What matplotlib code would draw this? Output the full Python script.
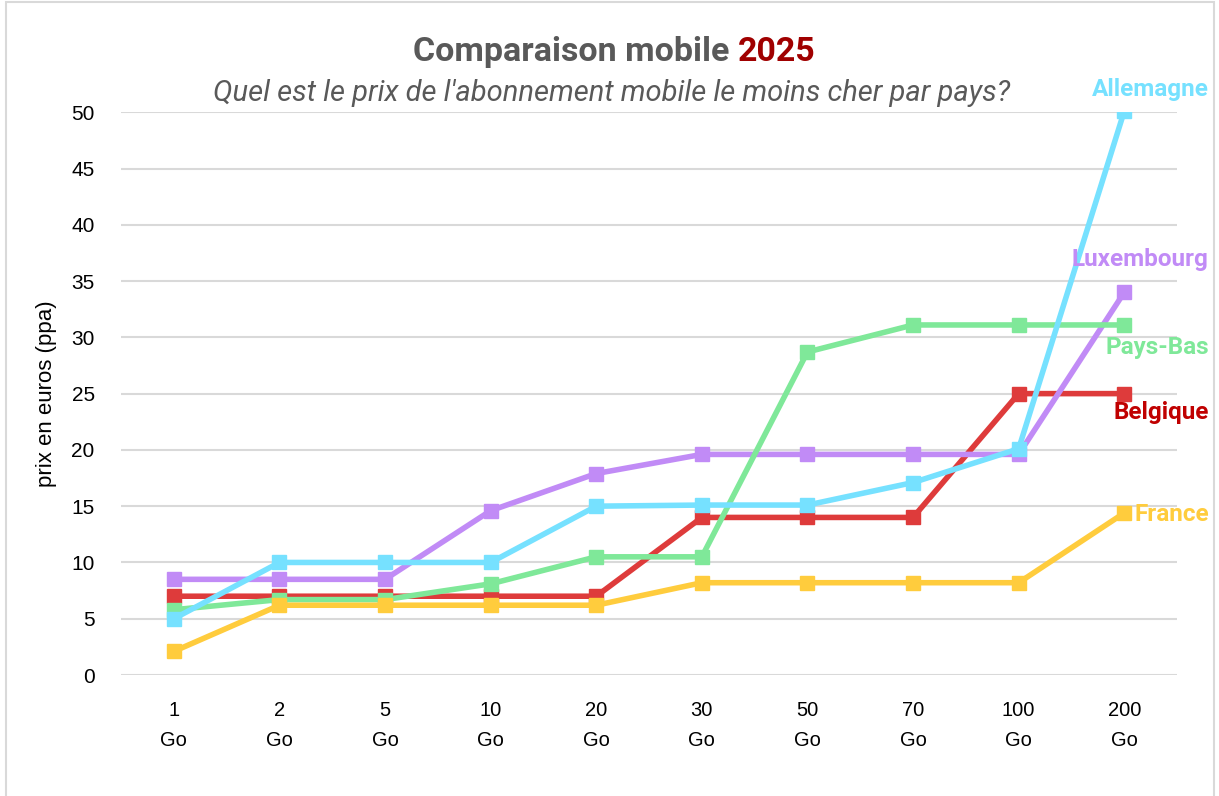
import matplotlib
matplotlib.use('Agg')
import matplotlib.pyplot as plt
from matplotlib.patches import Rectangle

# data
volumes = ['1', '2', '5', '10', '20', '30', '50', '70', '100', '200']
belgique = [7.0, 7.0, 7.0, 7.0, 7.0, 14.0, 14.0, 14.0, 25.0, 25.0]
luxembourg = [8.5, 8.5, 8.5, 14.6, 17.9, 19.6, 19.6, 19.6, 19.6, 34.0]
pays_bas = [5.8, 6.7, 6.7, 8.1, 10.5, 10.5, 28.7, 31.1, 31.1, 31.1]
allemagne = [5.0, 10.0, 10.0, 10.0, 15.0, 15.1, 15.1, 17.1, 20.1, 50.1]
france = [2.1, 6.2, 6.2, 6.2, 6.2, 8.2, 8.2, 8.2, 8.2, 14.4]

series = [
    ('Belgique', belgique, '#DE3B3B', '#C00000', 23.3),
    ('Luxembourg', luxembourg, '#C18BF6', '#C18BF6', 36.9),
    ('Pays-Bas', pays_bas, '#7FE899', '#7FE899', 29.1),
    ('Allemagne', allemagne, '#76E1FF', '#76E1FF', 52.0),
    ('France', france, '#FFCC3D', '#FFCC3D', 14.3),
]

fig = plt.figure(figsize=(12.19, 7.96), dpi=100)
ax = fig.add_axes([0.0993, 0.152, 0.8663, 0.707])

x = list(range(len(volumes)))
for name, vals, col, lab_col, ly in series:
    ax.plot(x, vals, color=col, lw=4, marker='s', ms=9.5, solid_joinstyle='round')
    ax.text(1.03, ly, name, transform=ax.get_yaxis_transform(), ha='right', va='center',
            color=lab_col, fontsize=17.5, fontweight='bold', family='Roboto')

ax.set_xlim(-0.5, len(volumes) - 0.5)
ax.set_ylim(0, 50)
ax.set_yticks(range(0, 51, 5))
ax.set_xticks(x)
ax.set_xticklabels([v + '\nGo' for v in volumes], linespacing=1.7)
ax.grid(axis='y', color='#D9D9D9', lw=1.5)
ax.set_axisbelow(True)
for s in ax.spines.values():
    s.set_visible(False)
ax.tick_params(length=0, labelsize=15, labelcolor='#000000')
ax.tick_params(axis='y', pad=19)
ax.tick_params(axis='x', pad=19, labelsize=14.5)
for lbl in ax.get_xticklabels() + ax.get_yticklabels():
    lbl.set_family('Liberation Sans')
ax.set_ylabel('prix en euros (ppa)', fontsize=16, family=['Liberation Sans Narrow', 'Liberation Sans'],
              labelpad=10)

fig.text(0.605, 0.935, 'Comparaison mobile ', ha='right', va='center', fontsize=24.5,
         fontweight='bold', color='#595959', family='Roboto')
fig.text(0.605, 0.935, '2025', ha='left', va='center', fontsize=24.5,
         fontweight='bold', color='#A00000', family='Roboto')
fig.text(0.502, 0.883, "Quel est le prix de l'abonnement mobile le moins cher par pays?",
         ha='center', va='center', fontsize=21, style='italic', color='#595959', family='Roboto')

fig.patches.append(Rectangle((0.005, -0.01), 0.991, 1.008, transform=fig.transFigure,
                             fill=False, edgecolor='#D9D9D9', lw=1.5))

fig.savefig('out.png', dpi=100)
